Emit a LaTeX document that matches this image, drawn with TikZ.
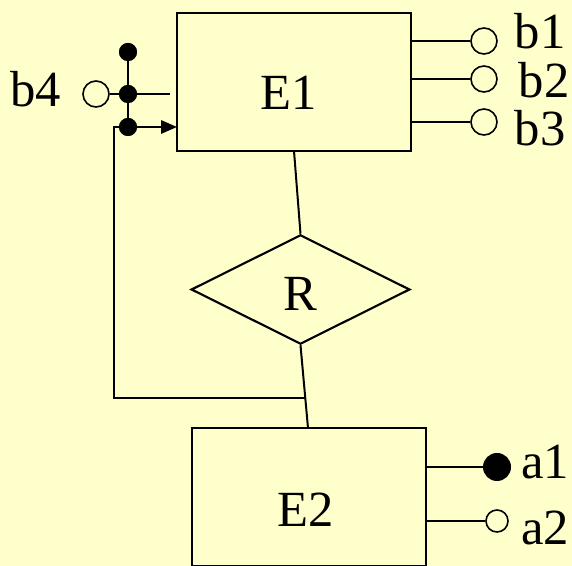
\documentclass[tikz,border=0pt]{standalone}
\usepackage{fontspec}
\setmainfont{Liberation Serif}
\usetikzlibrary{shapes.geometric,arrows.meta}
\definecolor{bg}{HTML}{FFFFCC}
\begin{document}
\begin{tikzpicture}[x=0.75pt,y=-0.75pt,
  ln/.style={line width=1.5pt,black},
  ent/.style={draw,line width=1.6pt,fill=bg,minimum width=175.5pt,minimum height=103.5pt,inner sep=0pt},
  rel/.style={draw,diamond,aspect=2,line width=1.6pt,fill=bg,minimum width=164pt,minimum height=82pt,inner sep=0pt},
  opn/.style={circle,draw,line width=1.2pt,fill=bg,minimum size=19.5pt,inner sep=0pt},
  opns/.style={circle,draw,line width=1.2pt,fill=bg,minimum size=16.5pt,inner sep=0pt},
  fil/.style={circle,fill=black,minimum size=21pt,inner sep=0pt},
  dot/.style={circle,fill=black,minimum size=13.5pt,inner sep=0pt},
  lbl/.style={inner sep=0pt,font=\fontsize{38}{40}\selectfont}]
\fill[bg] (0,0) rectangle (572,566);
\useasboundingbox (0,0) rectangle (572,566);
\begin{scope}
\clip (0,0) rectangle (572,566);
\node[ent] (E1) at (294,82) {};
\node[lbl] at (289,93) {E1};
\node[ent] (E2) at (309,497) {};
\node[lbl] at (306,510) {E2};
\end{scope}
\node[rel] (R) at (300.5,289.5) {};
\node[lbl] at (300,294) {R};
% relationship lines
\coordinate (e1b) at (294,151);
\coordinate (e2t) at (308,428);
\draw[ln] (e1b) -- (R.north);
\draw[ln] (R.south) -- (e2t);
% feedback line
\coordinate (fb) at (305,398);
\coordinate (fbl) at (114,398);
\coordinate (fbu) at (114,127);
\coordinate (e1in) at (177,127);
\node[dot] (d1) at (128,52) {};
\node[dot] (d2) at (128,94) {};
\node[dot] (d3) at (128,127) {};
\draw[ln] (fb) -- (fbl) -- (fbu) -- (d3.center);
\draw[ln,-{Triangle[length=12pt,width=10pt]}] (d3.center) -- (e1in);
\draw[ln] (d1.center) -- (d3.center);
\coordinate (d2r) at (170,94);
\draw[ln] (d2.center) -- (d2r);
\node[opn] (b4c) at (96,94) {};
\draw[ln] (b4c) -- (d2.center);
\node[dot] at (128,52) {};
\node[dot] at (128,94) {};
\node[dot] at (128,127) {};
\node[lbl] at (36,89) {b4};
% attributes b1-b3
\node[opn] (b1c) at (484,41) {};
\node[opn] (b2c) at (484,79) {};
\node[opn] (b3c) at (484,122) {};
\coordinate (s1) at (411,41);
\coordinate (s2) at (411,79);
\coordinate (s3) at (411,122);
\draw[ln] (s1) -- (b1c);
\draw[ln] (s2) -- (b2c);
\draw[ln] (s3) -- (b3c);
\node[lbl] at (540,31) {b1};
\node[lbl] at (544,80) {b2};
\node[lbl] at (540,128) {b3};
% attributes a1-a2
\node[fil] (a1c) at (497,467) {};
\node[opns] (a2c) at (497,521) {};
\coordinate (t1) at (426,467);
\coordinate (t2) at (426,521);
\draw[ln] (t1) -- (a1c);
\draw[ln] (t2) -- (a2c);
\node[lbl] at (545,462) {a1};
\node[lbl] at (545,528) {a2};
\end{tikzpicture}
\end{document}
